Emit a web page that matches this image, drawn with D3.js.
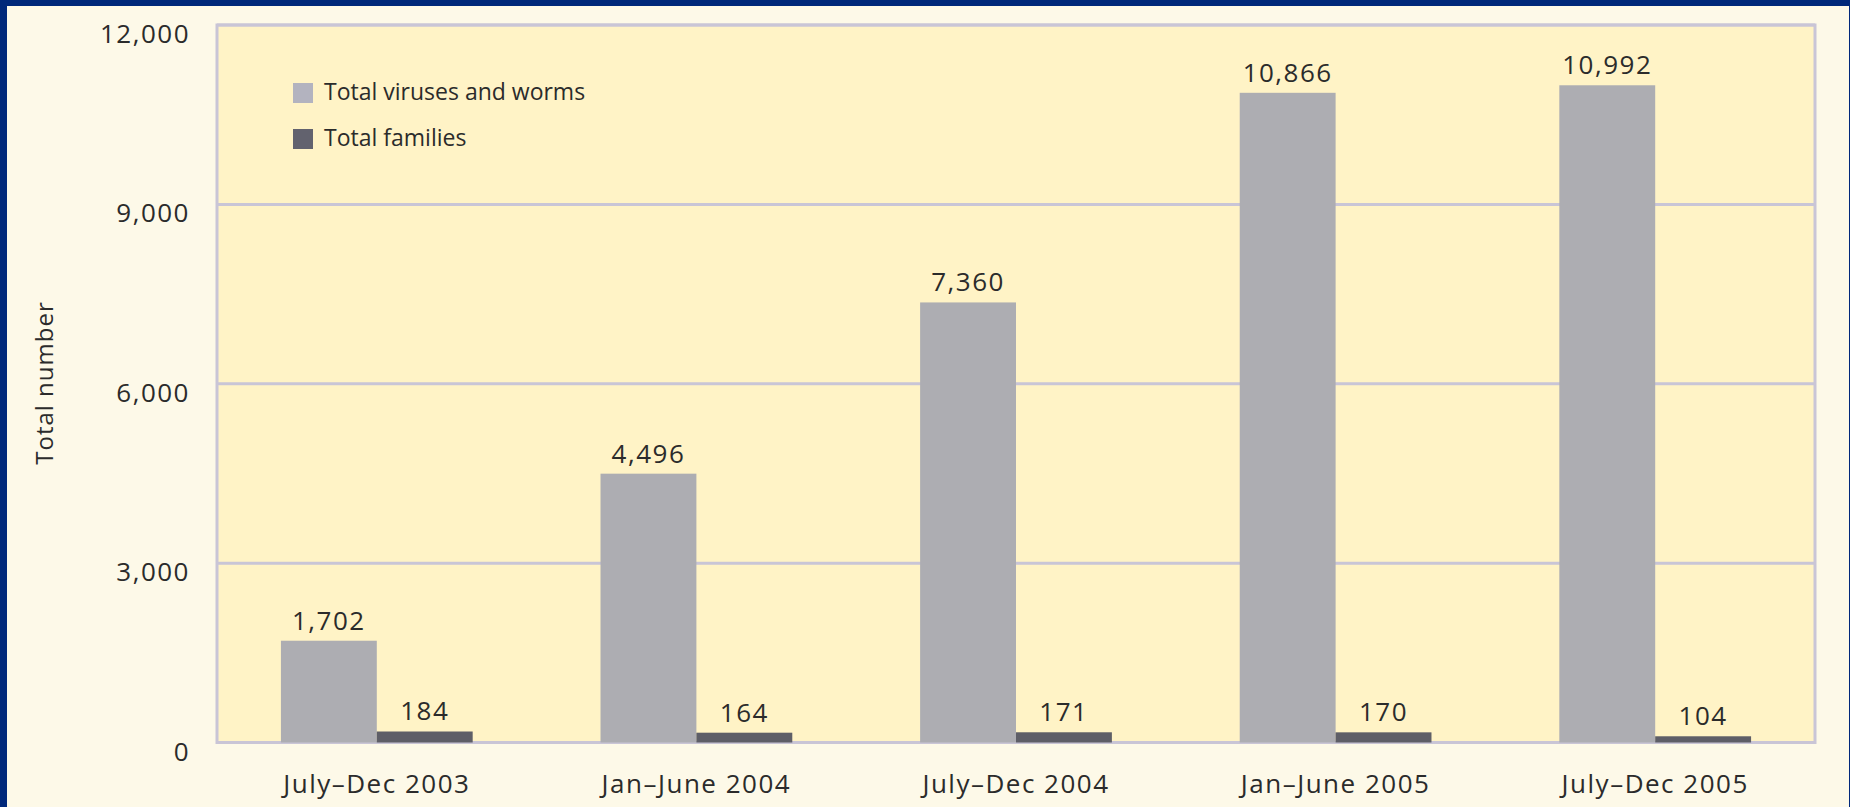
<!DOCTYPE html>
<html>
<head>
<meta charset="utf-8">
<script src="https://cdn.jsdelivr.net/npm/d3@7"></script>
<style>
  html, body { margin: 0; padding: 0; background: #fdf9e8; }
  svg { display: block; }
  text { font-family: "Open Sans", "Noto Sans", sans-serif; fill: #2b2b2b; }
</style>
</head>
<body>
<svg id="chart" width="1850" height="807"></svg>
<script>
// Half-year periods on the x axis
const periods = ["July–Dec 2003", "Jan–June 2004", "July–Dec 2004", "Jan–June 2005", "July–Dec 2005"];
// Series names (legend order)
const seriesNames = ["Total viruses and worms", "Total families"];
// Values per period
const virusesAndWorms = [1702, 4496, 7360, 10866, 10992];
const families = [184, 164, 171, 170, 104];
// Y axis ticks
const yTicks = [0, 3000, 6000, 9000, 12000];
const yTitle = "Total number";

const W = 1850, H = 807;
const plot = { left: 217, right: 1815, top: 25, bottom: 742.5 };
const colors = { [seriesNames[0]]: "#adadb2", [seriesNames[1]]: "#5e5e67" };
const legendColors = { [seriesNames[0]]: "#b3b3bf", [seriesNames[1]]: "#62626e" };
const gridColor = "#c9c5d6";

const svg = d3.select("#chart");

// Page background and frame strips
svg.append("rect").attr("width", W).attr("height", H).attr("fill", "#fdf9e8");
svg.append("rect").attr("x", 0).attr("y", 0).attr("width", W).attr("height", 6).attr("fill", "#00287a");
svg.append("rect").attr("x", 0).attr("y", 0).attr("width", 7).attr("height", H).attr("fill", "#00287a");
svg.append("rect").attr("x", W - 1).attr("y", 0).attr("width", 1).attr("height", H).attr("fill", "#00287a");

// Scales
const x = d3.scaleBand().domain(periods).range([plot.left, plot.right])
  .paddingInner(0.4).paddingOuter(0.2);
const xs = d3.scaleBand().domain(seriesNames).range([0, x.bandwidth()]);
const y = d3.scaleLinear().domain([0, 12000]).range([plot.bottom, plot.top]);

// Plot area fill
svg.append("rect")
  .attr("x", plot.left).attr("y", plot.top)
  .attr("width", plot.right - plot.left).attr("height", plot.bottom - plot.top)
  .attr("fill", "#fff3c6");

// Horizontal gridlines
svg.append("g").selectAll("line").data(yTicks).join("line")
  .attr("x1", plot.left).attr("x2", plot.right)
  .attr("y1", d => y(d)).attr("y2", d => y(d))
  .attr("stroke", gridColor).attr("stroke-width", 3);

// Plot frame
svg.append("rect")
  .attr("x", plot.left).attr("y", plot.top)
  .attr("width", plot.right - plot.left).attr("height", plot.bottom - plot.top)
  .attr("fill", "none").attr("stroke", gridColor).attr("stroke-width", 3);

// Y tick labels (sit just below their gridline)
const fmt = d3.format(",");
svg.append("g").selectAll("text").data(yTicks).join("text")
  .attr("x", 190).attr("y", d => y(d) + 18)
  .attr("text-anchor", "end")
  .style("font-size", "26px").style("letter-spacing", "1.5px")
  .text(d => fmt(d));

// Y axis title
svg.append("text")
  .attr("transform", "translate(53,383) rotate(-90)")
  .attr("text-anchor", "middle")
  .style("font-size", "24px").style("letter-spacing", "1px")
  .text(yTitle);

// Bars
const rows = periods.map((p, i) => ({
  period: p,
  values: [
    { key: seriesNames[0], value: virusesAndWorms[i] },
    { key: seriesNames[1], value: families[i] }
  ]
}));

const groups = svg.append("g").selectAll("g").data(rows).join("g")
  .attr("transform", d => `translate(${x(d.period)},0)`);

groups.selectAll("rect").data(d => d.values).join("rect")
  .attr("x", d => xs(d.key))
  .attr("y", d => y(d.value))
  .attr("width", xs.bandwidth())
  .attr("height", d => y(0) - y(d.value))
  .attr("fill", d => colors[d.key]);

// Value labels above bars
groups.selectAll("text").data(d => d.values).join("text")
  .attr("x", d => xs(d.key) + xs.bandwidth() / 2)
  .attr("y", d => y(d.value) - 11)
  .attr("text-anchor", "middle")
  .style("font-size", "26px").style("letter-spacing", "1.5px")
  .text(d => fmt(d.value));

// Category labels
svg.append("g").selectAll("text").data(periods).join("text")
  .attr("x", d => x(d) + x.bandwidth() / 2)
  .attr("y", 793)
  .attr("text-anchor", "middle")
  .style("font-size", "26px").style("letter-spacing", "1.5px")
  .text(d => d);

// Legend
const legend = svg.append("g").selectAll("g").data(seriesNames).join("g")
  .attr("transform", (d, i) => `translate(293,${83 + i * 46})`);
legend.append("rect")
  .attr("width", 20).attr("height", 20)
  .attr("fill", d => legendColors[d]);
legend.append("text")
  .attr("x", 31).attr("y", 17)
  .style("font-size", "23px")
  .text(d => d);
</script>
</body>
</html>
